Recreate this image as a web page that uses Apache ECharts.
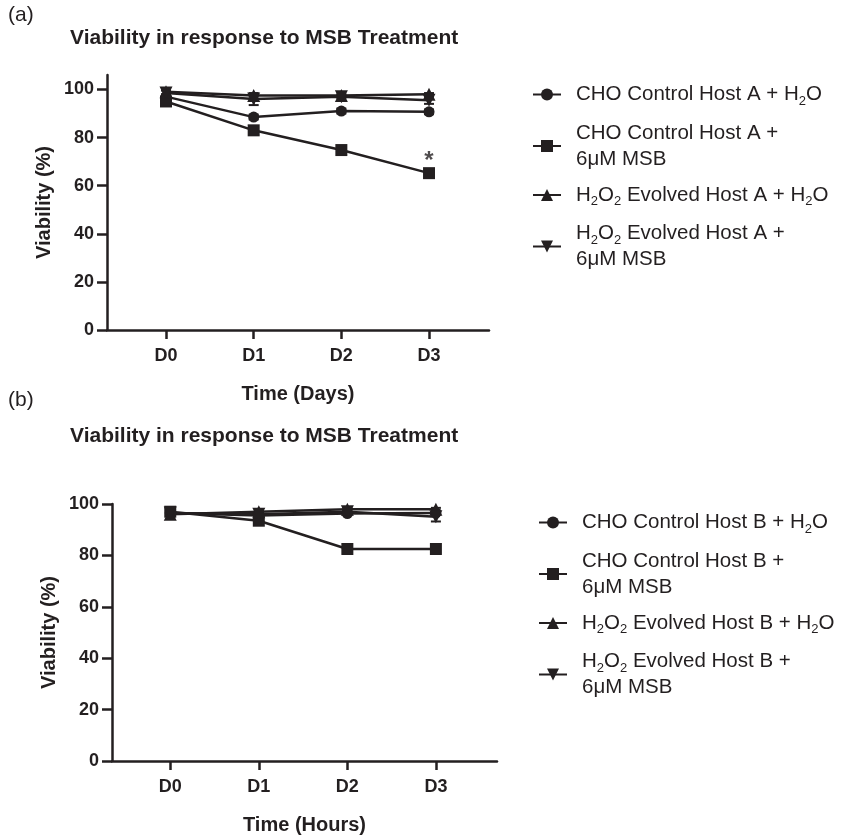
<!DOCTYPE html>
<html>
<head>
<meta charset="utf-8">
<title>Viability in response to MSB Treatment</title>
<script src="https://cdn.jsdelivr.net/npm/echarts@6/dist/echarts.min.js"></script>
<style>
  html, body { margin: 0; padding: 0; background: #fff; }
  #chart { width: 843px; height: 836px; }
</style>
</head>
<body>
<div id="chart"></div>
<script>
// data
const days = [0, 1, 2, 3]
const dayLabels = ['D0', 'D1', 'D2', 'D3']
const yTicks = [0, 20, 40, 60, 80, 100]

// (a) Host A, time in days
const namesA = [
  'CHO Control Host A + H2O',
  'CHO Control Host A + 6uM MSB',
  'H2O2 Evolved Host A + H2O',
  'H2O2 Evolved Host A + 6uM MSB',
]
const ctrlH2oA = [97, 88.5, 91, 90.7]
const ctrlMsbA = [95, 83, 74.8, 65.2]
const evoH2oA = [99, 97.5, 97.5, 98]
const evoMsbA = [98.5, 96, 97, 95.5]
const ctrlH2oAsd = [1, 1, 1, 1]
const ctrlMsbAsd = [1, 1.8, 1, 1]
const evoH2oAsd = [1.5, 0.5, 0.5, 0.5]
const evoMsbAsd = [1, 2.5, 0.5, 1.5]

// (b) Host B
const namesB = [
  'CHO Control Host B + H2O',
  'CHO Control Host B + 6uM MSB',
  'H2O2 Evolved Host B + H2O',
  'H2O2 Evolved Host B + 6uM MSB',
]
const ctrlH2oB = [96.5, 95.5, 96.3, 96.5]
const ctrlMsbB = [97, 93.5, 82.5, 82.5]
const evoH2oB = [96, 97, 98, 98]
const evoMsbB = [96.5, 96, 97, 95]
const ctrlH2oBsd = [0.5, 0.5, 0.5, 0.5]
const ctrlMsbBsd = [0.5, 1, 0.5, 1.5]
const evoH2oBsd = [0.5, 0.5, 0.5, 0.5]
const evoMsbBsd = [0.5, 0.5, 0.5, 1.8]

const font = '"Liberation Sans", Arial, Helvetica, sans-serif'
const ink = '#231f20'

// legend texts with subscripts
const richLabel = {
  'CHO Control Host A + H2O': '{n|CHO Control Host A + H}{s|2}{n|O}',
  'CHO Control Host A + 6uM MSB': '{n|CHO Control Host A +}\n{n|6μM MSB}',
  'H2O2 Evolved Host A + H2O': '{n|H}{s|2}{n|O}{s|2}{n| Evolved Host A + H}{s|2}{n|O}',
  'H2O2 Evolved Host A + 6uM MSB': '{n|H}{s|2}{n|O}{s|2}{n| Evolved Host A +}\n{n|6μM MSB}',
  'CHO Control Host B + H2O': '{n|CHO Control Host B + H}{s|2}{n|O}',
  'CHO Control Host B + 6uM MSB': '{n|CHO Control Host B +}\n{n|6μM MSB}',
  'H2O2 Evolved Host B + H2O': '{n|H}{s|2}{n|O}{s|2}{n| Evolved Host B + H}{s|2}{n|O}',
  'H2O2 Evolved Host B + 6uM MSB': '{n|H}{s|2}{n|O}{s|2}{n| Evolved Host B +}\n{n|6μM MSB}',
}

const symbols = [
  { symbol: 'circle', symbolSize: 11, symbolRotate: 0 },
  { symbol: 'rect', symbolSize: 12, symbolRotate: 0 },
  { symbol: 'triangle', symbolSize: 13, symbolRotate: 0 },
  { symbol: 'triangle', symbolSize: 13, symbolRotate: 180 },
]

function lineSeries(name, values, k, idx) {
  return {
    name: name,
    type: 'line',
    xAxisIndex: idx,
    yAxisIndex: idx,
    symbol: symbols[k].symbol,
    symbolSize: symbols[k].symbolSize,
    symbolRotate: symbols[k].symbolRotate,
    showAllSymbol: true,
    lineStyle: { color: ink, width: 2.5 },
    itemStyle: { color: ink },
    data: values.map((v, i) => [days[i], v]),
    z: 3,
  }
}

function errorSeries(values, sds, idx) {
  return {
    type: 'custom',
    xAxisIndex: idx,
    yAxisIndex: idx,
    silent: true,
    z: 2,
    data: values.map((v, i) => [days[i], v - sds[i], v + sds[i]]),
    renderItem: function (params, api) {
      const lo = api.coord([api.value(0), api.value(1)])
      const hi = api.coord([api.value(0), api.value(2)])
      const w = 5
      const style = { stroke: ink, lineWidth: 2 }
      return {
        type: 'group',
        children: [
          { type: 'line', shape: { x1: lo[0], y1: lo[1], x2: hi[0], y2: hi[1] }, style: style },
          { type: 'line', shape: { x1: lo[0] - w, y1: lo[1], x2: lo[0] + w, y2: lo[1] }, style: style },
          { type: 'line', shape: { x1: hi[0] - w, y1: hi[1], x2: hi[0] + w, y2: hi[1] }, style: style },
        ],
      }
    },
  }
}

function xAxis(idx, min, max, name) {
  return {
    gridIndex: idx,
    type: 'value',
    min: min,
    max: max,
    name: name,
    nameLocation: 'middle',
    nameGap: 54,
    nameTextStyle: { fontFamily: font, fontSize: 20, fontWeight: 'bold', color: ink },
    axisLine: { show: true, onZero: false, lineStyle: { color: ink, width: 2.5 } },
    axisTick: { show: true, length: 9, customValues: days, lineStyle: { color: ink, width: 2.5 } },
    axisLabel: {
      customValues: days,
      formatter: v => dayLabels[days.indexOf(v)],
      fontFamily: font, fontSize: 18, fontWeight: 'bold', color: ink, margin: 17,
    },
    splitLine: { show: false },
  }
}

function yAxis(idx, max) {
  return {
    gridIndex: idx,
    type: 'value',
    min: 0,
    max: max,
    name: 'Viability (%)',
    nameLocation: 'middle',
    nameGap: 53,
    nameTextStyle: { fontFamily: font, fontSize: 20, fontWeight: 'bold', color: ink },
    axisLine: { show: true, onZero: false, lineStyle: { color: ink, width: 2.5 } },
    axisTick: { show: true, length: 10, customValues: yTicks, lineStyle: { color: ink, width: 2.5 } },
    axisLabel: {
      customValues: yTicks,
      fontFamily: font, fontSize: 18, fontWeight: 'bold', color: ink, margin: 13,
    },
    splitLine: { show: false },
  }
}

function legend(names, left, top) {
  return {
    data: names,
    orient: 'vertical',
    left: left,
    top: top,
    padding: 0,
    itemGap: 15,
    itemWidth: 28,
    itemHeight: 15,
    selectedMode: false,
    formatter: name => richLabel[name],
    textStyle: {
      padding: [0, 0, 0, 10],
      rich: {
        n: { fontFamily: font, fontSize: 20.5, lineHeight: 26, color: ink },
        s: { fontFamily: font, fontSize: 13, lineHeight: 17, verticalAlign: 'bottom', color: ink },
      },
    },
  }
}

const chart = echarts.init(document.getElementById('chart'))

const option = {
  backgroundColor: '#fff',
  animation: false,
  title: [
    { text: '(a)', left: 8, top: 5, padding: 0, textStyle: { fontFamily: font, fontSize: 21, fontWeight: 'normal', color: ink } },
    { text: 'Viability in response to MSB Treatment', left: 70, top: 28, padding: 0, textStyle: { fontFamily: font, fontSize: 21, fontWeight: 'bold', color: ink } },
    { text: '(b)', left: 8, top: 390, padding: 0, textStyle: { fontFamily: font, fontSize: 21, fontWeight: 'normal', color: ink } },
    { text: 'Viability in response to MSB Treatment', left: 70, top: 426, padding: 0, textStyle: { fontFamily: font, fontSize: 21, fontWeight: 'bold', color: ink } },
  ],
  legend: [legend(namesA, 532, 84), legend(namesB, 538, 512)],
  grid: [
    { left: 107, top: 75, width: 382, height: 255 },
    { left: 112, top: 504, width: 385, height: 258 },
  ],
  xAxis: [xAxis(0, -0.673, 3.684, 'Time (Days)'), xAxis(1, -0.658, 3.69, 'Time (Hours)')],
  yAxis: [yAxis(0, 106), yAxis(1, 100)],
  series: [
    errorSeries(ctrlH2oA, ctrlH2oAsd, 0),
    errorSeries(ctrlMsbA, ctrlMsbAsd, 0),
    errorSeries(evoH2oA, evoH2oAsd, 0),
    errorSeries(evoMsbA, evoMsbAsd, 0),
    lineSeries(namesA[0], ctrlH2oA, 0, 0),
    lineSeries(namesA[1], ctrlMsbA, 1, 0),
    lineSeries(namesA[2], evoH2oA, 2, 0),
    lineSeries(namesA[3], evoMsbA, 3, 0),
    errorSeries(ctrlH2oB, ctrlH2oBsd, 1),
    errorSeries(ctrlMsbB, ctrlMsbBsd, 1),
    errorSeries(evoH2oB, evoH2oBsd, 1),
    errorSeries(evoMsbB, evoMsbBsd, 1),
    lineSeries(namesB[0], ctrlH2oB, 0, 1),
    lineSeries(namesB[1], ctrlMsbB, 1, 1),
    lineSeries(namesB[2], evoH2oB, 2, 1),
    lineSeries(namesB[3], evoMsbB, 3, 1),
    {
      // significance mark at D3, MSB treated control
      type: 'scatter',
      xAxisIndex: 0,
      yAxisIndex: 0,
      symbolSize: 0,
      silent: true,
      data: [[days[3], ctrlMsbA[3]]],
      label: {
        show: true,
        formatter: '*',
        position: 'inside',
        offset: [0, -12],
        fontFamily: font,
        fontSize: 24,
        fontWeight: 'bold',
        color: ink,
      },
    },
  ],
}

chart.setOption(option)
</script>
</body>
</html>
